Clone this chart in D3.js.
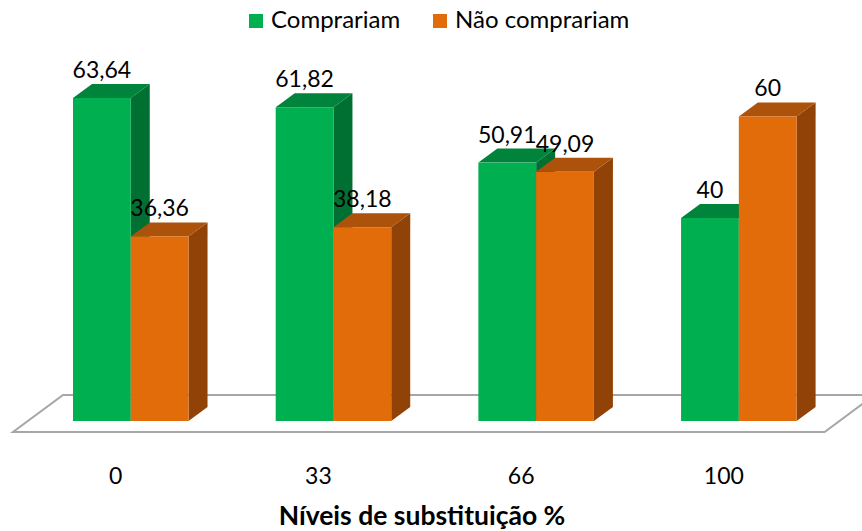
<!DOCTYPE html>
<html>
<head>
<meta charset="utf-8">
<script src="https://cdn.jsdelivr.net/npm/d3@7"></script>
<style>
  body { margin: 0; background: #fff; }
  text { font-family: Lato, "Open Sans", sans-serif; fill: #000; }
</style>
</head>
<body>
<div id="chart"></div>
<script>
// data
let categories = ["0", "33", "66", "100"];
let series = ["Comprariam", "Não comprariam"];
let comprariam = [63.64, 61.82, 50.91, 40];
let naoComprariam = [36.36, 38.18, 49.09, 60];
let valueLabels = [["63,64", "61,82", "50,91", "40"], ["36,36", "38,18", "49,09", "60"]];
let xTitle = "Níveis de substituição %";

let width = 862, height = 531;
let depthX = 19, depthY = -14;   // 3D offset of the bars

let colors = [
    { front: "#00b050", top: "#00843c", side: "#007032" },
    { front: "#e36c0a", top: "#ad520a", side: "#914307" }
];

let svg = d3.select("#chart").append("svg")
    .attr("width", width)
    .attr("height", height);

// scales
let x = d3.scaleBand()
    .domain(categories)
    .range([73, 796.6])
    .paddingInner(0.43)
    .paddingOuter(0);
let x1 = d3.scaleBand()
    .domain([0, 1])
    .range([0, x.bandwidth()]);
let y = d3.scaleLinear()
    .domain([0, 63.64])
    .range([421, 98]);

// floor
let floorFront = 432, floorBack = 395;
svg.append("polygon")
    .attr("points", [
        [x.range()[0] - 60, floorFront],
        [x.range()[1] + 28, floorFront],
        [x.range()[1] + 78, floorBack],
        [x.range()[0] - 10, floorBack]
    ].map(p => p.join(",")).join(" "))
    .attr("fill", "none")
    .attr("stroke", "#a6a6a6")
    .attr("stroke-width", 2);

let values = [comprariam, naoComprariam];

categories.forEach(function(c, i) {
    [0, 1].forEach(function(s) {
        let v = values[s][i];
        let x0 = x(c) + x1(s), w = x1.bandwidth();
        let yt = y(v), yb = y(0);
        let g = svg.append("g");
        // side face
        g.append("polygon")
            .attr("points", [[x0 + w, yt], [x0 + w + depthX, yt + depthY],
                [x0 + w + depthX, yb + depthY], [x0 + w, yb]].map(p => p.join(",")).join(" "))
            .attr("fill", colors[s].side);
        // top face
        g.append("polygon")
            .attr("points", [[x0, yt], [x0 + depthX, yt + depthY],
                [x0 + w + depthX, yt + depthY], [x0 + w, yt]].map(p => p.join(",")).join(" "))
            .attr("fill", colors[s].top);
        // front face
        g.append("rect")
            .attr("x", x0)
            .attr("y", yt)
            .attr("width", w)
            .attr("height", yb - yt)
            .attr("fill", colors[s].front);
    });
});

// value labels (drawn last so they stay on top)
categories.forEach(function(c, i) {
    [0, 1].forEach(function(s) {
        svg.append("text")
            .attr("x", x(c) + x1(s) + x1.bandwidth() / 2)
            .attr("y", y(values[s][i]) + depthY - 6)
            .attr("text-anchor", "middle")
            .style("font-size", "23px")
            .text(valueLabels[s][i]);
    });
});

// category labels
svg.selectAll(".cat")
    .data(categories)
    .enter()
    .append("text")
    .attr("class", "cat")
    .attr("x", d => x(d) + x.bandwidth() / 2 - 15)
    .attr("y", 484)
    .attr("text-anchor", "middle")
    .style("font-size", "23px")
    .text(d => d);

// axis title
svg.append("text")
    .attr("x", 422)
    .attr("y", 525)
    .attr("text-anchor", "middle")
    .style("font-size", "26.5px")
    .style("font-weight", "bold")
    .text(xTitle);

// legend
let legendX = [249, 433];
series.forEach(function(name, s) {
    svg.append("rect")
        .attr("x", legendX[s])
        .attr("y", 14)
        .attr("width", 14)
        .attr("height", 14)
        .attr("fill", colors[s].front);
    svg.append("text")
        .attr("x", legendX[s] + 22)
        .attr("y", 28)
        .style("font-size", "24px")
        .text(name);
});
</script>
</body>
</html>
